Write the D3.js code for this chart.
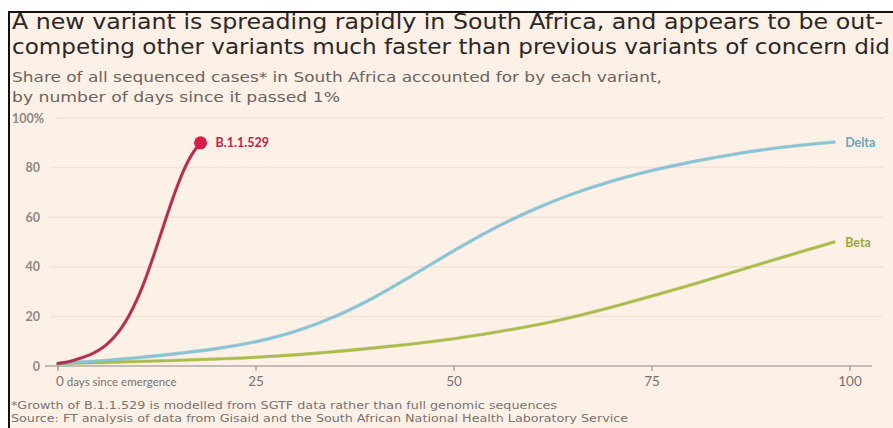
<!DOCTYPE html>
<html><head><meta charset="utf-8">
<script src="https://cdn.jsdelivr.net/npm/d3@7"></script>
<style>
html,body{margin:0;padding:0;background:#fff;}
svg{display:block;}
</style></head>
<body>
<svg id="chart" width="893" height="428"></svg>
<script>
// ---- data ----
const b11529Days   = [0, 1, 2, 3, 4, 5, 6, 7, 8, 9, 10, 11, 12, 13, 14, 15, 16, 17, 18];
const b11529Values = [1, 1.5, 2.3, 3.3, 4.5, 6.1, 8.3, 11.3, 15.3, 20.5, 27, 34.8, 43.8, 53.4, 63, 72, 79.8, 85.8, 90];
const deltaDays    = [0, 5, 10, 15, 20, 25, 30, 35, 40, 45, 50, 55, 60, 65, 70, 75, 80, 85, 90, 95, 98];
const deltaValues  = [1, 2, 3.3, 5, 7, 9.8, 14, 20, 27.8, 37, 46.5, 55.4, 63, 69.4, 74.6, 78.8, 82.3, 85.2, 87.6, 89.4, 90.3];
const betaDays     = [0, 10, 20, 25, 30, 35, 40, 45, 50, 55, 60, 65, 70, 75, 80, 85, 90, 95, 98];
const betaValues   = [1, 1.8, 2.8, 3.5, 4.5, 5.8, 7.3, 9, 11, 13.5, 16.3, 19.8, 23.8, 28.2, 32.8, 37.6, 42.4, 47.2, 50];
const yTicks = [0, 20, 40, 60, 80, 100];
const xTicks = [0, 25, 50, 75, 100];
const titleLines = [
  "A new variant is spreading rapidly in South Africa, and appears to be out-",
  "competing other variants much faster than previous variants of concern did"
];
const subtitleLines = [
  "Share of all sequenced cases* in South Africa accounted for by each variant,",
  "by number of days since it passed 1%"
];
const footLines = [
  "*Growth of B.1.1.529 is modelled from SGTF data rather than full genomic sequences",
  "Source: FT analysis of data from Gisaid and the South African National Health Laboratory Service"
];

const svg = d3.select("#chart");
const font = "'DejaVu Sans Condensed', 'Liberation Sans Narrow', Roboto, sans-serif";

// frame
svg.append("rect").attr("x", 9).attr("y", 12).attr("width", 884).attr("height", 416).attr("fill", "#fdf0e6");
svg.append("line").attr("x1", 8).attr("x2", 893).attr("y1", 12).attr("y2", 12).attr("stroke", "#111").attr("stroke-width", 2);
svg.append("line").attr("x1", 9).attr("x2", 9).attr("y1", 11).attr("y2", 428).attr("stroke", "#111").attr("stroke-width", 2);

// title
const titleW = [871, 878];
titleLines.forEach((t, i) => {
  svg.append("text").attr("x", 12).attr("y", 29 + i * 25)
    .attr("font-family", font).attr("font-size", 21).attr("fill", "#2b2826")
    .attr("textLength", titleW[i]).attr("lengthAdjust", "spacingAndGlyphs").text(t);
});
const subW = [650, 328];
subtitleLines.forEach((t, i) => {
  svg.append("text").attr("x", 12).attr("y", 82 + i * 20)
    .attr("font-family", font).attr("font-size", 13.5).attr("fill", "#6b6460")
    .attr("textLength", subW[i]).attr("lengthAdjust", "spacingAndGlyphs").text(t);
});

// scales
const x = d3.scaleLinear().domain([0, 100]).range([58, 850]);
const y = d3.scaleLinear().domain([0, 100]).range([366, 118]);

// grid
const g = svg.append("g");
g.selectAll("line.grid").data(yTicks.filter(d => d > 0)).join("line")
  .attr("x1", d => d === 100 ? 57 : 50).attr("x2", 883)
  .attr("y1", d => y(d)).attr("y2", d => y(d))
  .attr("stroke", "#f1e2d6").attr("stroke-width", 1.5);

// y labels
g.selectAll("text.ylab").data(yTicks).join("text")
  .attr("x", d => d === 100 ? 12 : 40)
  .attr("text-anchor", d => d === 100 ? "start" : "end")
  .attr("y", d => y(d) + 4.5)
  .attr("font-family", "Lato, 'Open Sans', sans-serif").attr("font-weight", 700)
  .attr("font-size", 12.5).attr("fill", "#8f8883")
  .text(d => d === 100 ? "100%" : d);

// x axis
svg.append("line").attr("x1", 45).attr("x2", 872).attr("y1", y(0)).attr("y2", y(0))
  .attr("stroke", "#b2aaa4").attr("stroke-width", 1.5);
svg.selectAll("line.xt").data(xTicks).join("line")
  .attr("x1", d => x(d)).attr("x2", d => x(d)).attr("y1", y(0)).attr("y2", y(0) + 5)
  .attr("stroke", "#9c948e").attr("stroke-width", 1.2);
svg.selectAll("text.xl").data(xTicks).join("text")
  .attr("x", d => d === 0 ? x(0) - 2 : x(d))
  .attr("text-anchor", d => d === 0 ? "start" : "middle")
  .attr("y", 386)
  .attr("font-family", "Lato, 'Open Sans', sans-serif").attr("font-size", 13.5).attr("fill", "#7a736e")
  .each(function(d) {
    const t = d3.select(this);
    t.append("tspan").text(d);
    if (d === 0) t.append("tspan").attr("font-size", 11.5).text(" days since emergence");
  });

// lines
const line = d3.line().x(d => x(d[0])).y(d => y(d[1])).curve(d3.curveCatmullRom.alpha(0.5));
const zip = (a, b) => a.map((v, i) => [v, b[i]]);
const series = [
  {days: betaDays, vals: betaValues, color: "#a9be4a", dark: "#8fa23a"},
  {days: deltaDays, vals: deltaValues, color: "#86c4d6", dark: "#5f9fb2"},
  {days: b11529Days, vals: b11529Values, color: "#b82a4e", dark: "#7c1a33"}
];
series.forEach(s => {
  const data = zip(s.days, s.vals);
  svg.append("path").datum(data).attr("d", line).attr("fill", "none")
    .attr("stroke", s.dark).attr("stroke-width", 3.6).attr("stroke-opacity", 0.35).attr("stroke-linecap", "round");
  svg.append("path").datum(data).attr("d", line).attr("fill", "none")
    .attr("stroke", s.color).attr("stroke-width", 2.6).attr("stroke-linecap", "round");
});

// end dot for B.1.1.529
const lastB = b11529Days.length - 1;
svg.append("circle").attr("cx", x(b11529Days[lastB])).attr("cy", y(b11529Values[lastB]))
  .attr("r", 6.5).attr("fill", "#d41e4b");

// labels
const labFont = "Lato, 'Open Sans', sans-serif";
svg.append("text").attr("x", x(b11529Days[lastB]) + 15).attr("y", y(b11529Values[lastB]) + 4.5)
  .attr("font-family", labFont).attr("font-weight", 700).attr("font-size", 12.5).attr("fill", "#b52a4c").text("B.1.1.529");
svg.append("text").attr("x", x(deltaDays[deltaDays.length - 1]) + 11).attr("y", y(deltaValues[deltaValues.length - 1]) + 4.5)
  .attr("font-family", labFont).attr("font-weight", 700).attr("font-size", 12.5).attr("fill", "#6aa7b9").text("Delta");
svg.append("text").attr("x", x(betaDays[betaDays.length - 1]) + 11).attr("y", y(betaValues[betaValues.length - 1]) + 4.5)
  .attr("font-family", labFont).attr("font-weight", 700).attr("font-size", 12.5).attr("fill", "#9aa83c").text("Beta");

// footnotes
const footW = [546, 617];
footLines.forEach((t, i) => {
  svg.append("text").attr("x", 11).attr("y", 409 + i * 13)
    .attr("font-family", font).attr("font-size", 10.5).attr("fill", "#7a736e")
    .attr("textLength", footW[i]).attr("lengthAdjust", "spacingAndGlyphs").text(t);
});
</script>
</body></html>
